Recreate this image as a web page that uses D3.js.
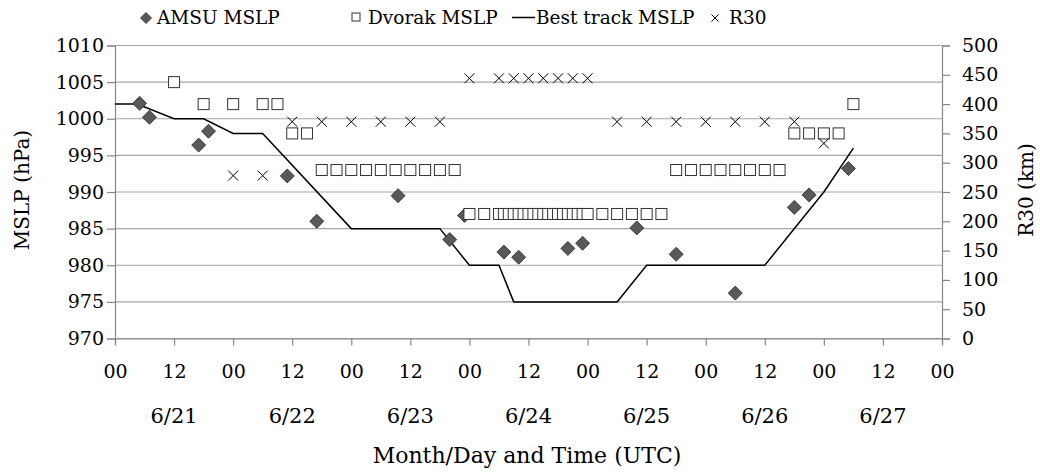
<!DOCTYPE html>
<html>
<head>
<meta charset="utf-8">
<script src="https://cdn.jsdelivr.net/npm/d3@7"></script>
<style>
  html, body { margin: 0; padding: 0; background: #fff; }
  svg text { font-family: "DejaVu Serif", serif; fill: #000; }
</style>
</head>
<body>
<svg id="chart" width="1040" height="472"></svg>
<script>
// hours since 6/21 00 UTC
const amsuHours = [5, 7, 17, 19, 35, 41, 57.5, 68, 71, 79, 82, 92, 95, 106, 114, 126, 138, 141, 149];
const amsuMslp = [1002.1, 1000.2, 996.4, 998.3, 992.2, 986.0, 989.5, 983.5, 986.8, 981.8, 981.1, 982.3, 983.0, 985.1, 981.5, 976.2, 987.9, 989.6, 993.2];

const dvorakHours = [12, 18, 24, 30, 33, 36, 39,
  42, 45, 48, 51, 54, 57, 60, 63, 66, 69,
  72, 75, 78, 79, 80, 81, 82, 83, 84, 85, 86, 87, 88, 89, 90, 91, 92, 93, 94, 95, 96,
  99, 102, 105, 108, 111,
  114, 117, 120, 123, 126, 129, 132, 135,
  138, 141, 144, 147, 150];
const dvorakMslp = [1005, 1002, 1002, 1002, 1002, 998, 998,
  993, 993, 993, 993, 993, 993, 993, 993, 993, 993,
  987, 987, 987, 987, 987, 987, 987, 987, 987, 987, 987, 987, 987, 987, 987, 987, 987, 987, 987, 987, 987,
  987, 987, 987, 987, 987,
  993, 993, 993, 993, 993, 993, 993, 993,
  998, 998, 998, 998, 1002];

const bestHours = [0, 4.5, 12, 18, 24, 30, 48, 66, 72, 78, 81, 102, 108, 132, 144, 150];
const bestMslp = [1002, 1002, 1000, 1000, 998, 998, 985, 985, 980, 980, 975, 975, 980, 980, 990, 996];

const r30Hours = [24, 30, 36, 42, 48, 54, 60, 66, 72, 78, 81, 84, 87, 90, 93, 96, 102, 108, 114, 120, 126, 132, 138, 144];
const r30Km = [278, 278, 370, 370, 370, 370, 370, 370, 444, 444, 444, 444, 444, 444, 444, 444, 370, 370, 370, 370, 370, 370, 370, 333];

const timeTickLabels = ["00", "12", "00", "12", "00", "12", "00", "12", "00", "12", "00", "12", "00", "12", "00"];
const dateLabels = ["6/21", "6/22", "6/23", "6/24", "6/25", "6/26", "6/27"];
const mslpTicks = [970, 975, 980, 985, 990, 995, 1000, 1005, 1010];
const r30Ticks = [0, 50, 100, 150, 200, 250, 300, 350, 400, 450, 500];

const plotL = 115, plotR = 942, plotT = 45.5, plotB = 338.5;
const axisCol = '#868686', gridCol = '#a6a6a6';

const svg = d3.select('#chart');

const x = d3.scaleLinear().domain([0, 168]).range([plotL, plotR]);
const y = d3.scaleLinear().domain([970, 1010]).range([plotB, plotT]);
const y2 = d3.scaleLinear().domain([0, 500]).range([plotB, plotT]);

//gridlines
svg.append('g')
  .selectAll('line')
  .data(mslpTicks)
  .enter()
  .append('line')
  .attr('x1', plotL).attr('x2', plotR)
  .attr('y1', d => y(d)).attr('y2', d => y(d))
  .attr('stroke', gridCol)
  .attr('stroke-width', 1.2);

//left axis
const yAxis = d3.axisLeft(y).tickValues(mslpTicks).tickSize(8).tickPadding(3).tickFormat(d => d);
const gy = svg.append('g').attr('transform', `translate(${plotL},0)`).call(yAxis);

//right axis
const y2Axis = d3.axisRight(y2).tickValues(r30Ticks).tickSize(8).tickPadding(12).tickFormat(d => d);
const gy2 = svg.append('g').attr('transform', `translate(${plotR},0)`).call(y2Axis);

//bottom axis
const xAxis = d3.axisBottom(x)
  .tickValues(timeTickLabels.map((d, i) => i * 12))
  .tickSize(7).tickPadding(19)
  .tickFormat((d, i) => timeTickLabels[i]);
const gx = svg.append('g').attr('transform', `translate(0,${plotB})`).call(xAxis);

[gy, gy2, gx].forEach(g => {
  g.select('.domain').attr('stroke', axisCol).attr('stroke-width', 1.2);
  g.selectAll('.tick line').attr('stroke', axisCol).attr('stroke-width', 1.2);
  g.selectAll('.tick text')
    .attr('font-family', '"DejaVu Serif", serif')
    .attr('font-size', 19)
    .attr('fill', '#000');
});
gy2.selectAll('.tick text').attr('x', 20);

//date labels, centred on each day
svg.append('g')
  .selectAll('text')
  .data(dateLabels)
  .enter()
  .append('text')
  .attr('x', (d, i) => x(i * 24 + 12))
  .attr('y', 423)
  .attr('text-anchor', 'middle')
  .attr('font-size', 21)
  .text(d => d);

//axis titles
svg.append('text')
  .attr('transform', 'translate(29,190) rotate(-90)')
  .attr('text-anchor', 'middle')
  .attr('font-size', 20)
  .text('MSLP (hPa)');

svg.append('text')
  .attr('transform', 'translate(1033,190) rotate(-90)')
  .attr('text-anchor', 'middle')
  .attr('font-size', 20)
  .text('R30 (km)');

svg.append('text')
  .attr('x', 527)
  .attr('y', 463)
  .attr('text-anchor', 'middle')
  .attr('font-size', 22)
  .text('Month/Day and Time (UTC)');

//best track line
svg.append('path')
  .datum(bestHours.map((h, i) => [h, bestMslp[i]]))
  .attr('fill', 'none')
  .attr('stroke', '#000')
  .attr('stroke-width', 1.5)
  .attr('d', d3.line().x(d => x(d[0])).y(d => y(d[1])));

const diamond = 'M0,-7L7,0L0,7L-7,0Z';

//AMSU diamonds
svg.append('g')
  .selectAll('path')
  .data(amsuHours.map((h, i) => [h, amsuMslp[i]]))
  .enter()
  .append('path')
  .attr('d', diamond)
  .attr('transform', d => `translate(${x(d[0])},${y(d[1])})`)
  .attr('fill', '#595959')
  .attr('stroke', '#262626')
  .attr('stroke-width', 0.8);

//Dvorak squares
svg.append('g')
  .selectAll('rect')
  .data(dvorakHours.map((h, i) => [h, dvorakMslp[i]]))
  .enter()
  .append('rect')
  .attr('x', d => x(d[0]) - 5.5)
  .attr('y', d => y(d[1]) - 5.5)
  .attr('width', 11)
  .attr('height', 11)
  .attr('fill', '#fff')
  .attr('stroke', '#333')
  .attr('stroke-width', 1);

//R30 crosses
const cross = 'M-5,-5L5,5M-5,5L5,-5';
svg.append('g')
  .selectAll('path')
  .data(r30Hours.map((h, i) => [h, r30Km[i]]))
  .enter()
  .append('path')
  .attr('d', cross)
  .attr('transform', d => `translate(${x(d[0])},${y2(d[1])})`)
  .attr('fill', 'none')
  .attr('stroke', '#000')
  .attr('stroke-width', 1);

//legend
const legend = svg.append('g').attr('id', 'legend');
legend.append('path').attr('d', 'M0,-5.5L5.5,0L0,5.5L-5.5,0Z')
  .attr('transform', 'translate(146,18)')
  .attr('fill', '#595959').attr('stroke', '#262626').attr('stroke-width', 0.8);
legend.append('text').attr('x', 157).attr('y', 24).attr('font-size', 18.5).text('AMSU MSLP');

legend.append('rect').attr('x', 352).attr('y', 13).attr('width', 8).attr('height', 8)
  .attr('fill', '#fff').attr('stroke', '#333').attr('stroke-width', 1);
legend.append('text').attr('x', 368).attr('y', 24).attr('font-size', 18.5).text('Dvorak MSLP');

legend.append('line').attr('x1', 512).attr('x2', 535).attr('y1', 17.5).attr('y2', 17.5)
  .attr('stroke', '#000').attr('stroke-width', 1.5);
legend.append('text').attr('x', 536).attr('y', 24).attr('font-size', 18.5).text('Best track MSLP');

legend.append('path').attr('d', 'M-3.5,-3.5L3.5,3.5M-3.5,3.5L3.5,-3.5')
  .attr('transform', 'translate(715,18)')
  .attr('stroke', '#000').attr('stroke-width', 1);
legend.append('text').attr('x', 729).attr('y', 24).attr('font-size', 18.5).text('R30');
</script>
</body>
</html>
